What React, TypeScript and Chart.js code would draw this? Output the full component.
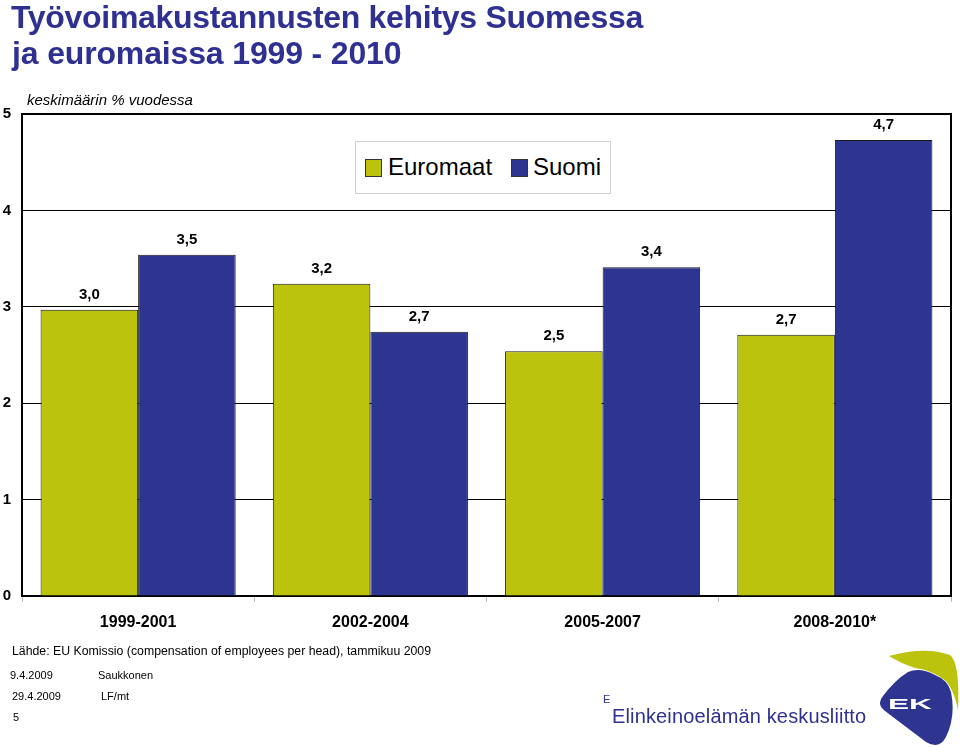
import React, { useEffect, useRef } from "react";
import { Chart, registerables } from "chart.js";

Chart.register(...registerables);

const categories = ["1999-2001", "2002-2004", "2005-2007", "2008-2010*"];
const euromaat = [2.97, 3.24, 2.54, 2.71];
const suomi = [3.54, 2.74, 3.41, 4.73];
const seriesNames = ["Euromaat", "Suomi"];
const yMin = 0;
const yMax = 5;
const yStep = 1;

const GREEN = "#BCC30C";
const BLUE = "#2E3591";
const TITLE_BLUE = "#2E3192";
const FONT = "'Liberation Sans', Arial, Helvetica, sans-serif";

const fmt = (v: number) => v.toFixed(1).replace(".", ",");

const valueLabels = {
  id: "valueLabels",
  afterDatasetsDraw(chart: any) {
    const ctx = chart.ctx;
    ctx.save();
    ctx.font = `bold 15px ${FONT}`;
    ctx.fillStyle = "#000";
    ctx.textAlign = "center";
    ctx.textBaseline = "alphabetic";
    chart.data.datasets.forEach((ds: any, di: number) => {
      const meta = chart.getDatasetMeta(di);
      meta.data.forEach((el: any, i: number) => {
        ctx.fillText(fmt(ds.data[i]), el.x, el.y - 11);
      });
    });
    ctx.restore();
  },
};

export default function App() {
  const ref = useRef<HTMLCanvasElement | null>(null);

  useEffect(() => {
    if (!ref.current) return;
    Chart.defaults.font.family = FONT;
    const chart = new Chart(ref.current, {
      type: "bar",
      data: {
        labels: categories,
        datasets: [
          {
            label: seriesNames[0],
            data: euromaat,
            backgroundColor: GREEN,
            borderColor: "#1a1a1a",
            borderWidth: 1,
            barPercentage: 1,
            categoryPercentage: 0.84,
          },
          {
            label: seriesNames[1],
            data: suomi,
            backgroundColor: BLUE,
            borderColor: "#1a1a1a",
            borderWidth: 1,
            barPercentage: 1,
            categoryPercentage: 0.84,
          },
        ],
      },
      options: {
        responsive: false,
        animation: false,
        devicePixelRatio: 1,
        layout: { padding: { top: 114, right: 9, bottom: 0, left: 0 } },
        plugins: {
          legend: { display: false },
          tooltip: { enabled: false },
          title: { display: false },
        },
        scales: {
          x: {
            offset: true,
            grid: {
              display: true,
              offset: true,
              drawOnChartArea: false,
              drawTicks: true,
              tickLength: 6,
              color: "#bbbbbb",
            },
            border: { display: true, color: "#000", width: 2 },
            ticks: {
              font: { size: 16, weight: "bold", family: FONT },
              color: "#000",
              padding: 11,
              maxRotation: 0,
            },
            afterFit: (s: any) => {
              s.height = 151;
            },
          },
          y: {
            min: yMin,
            max: yMax,
            ticks: {
              stepSize: yStep,
              font: { size: 15, weight: "bold", family: FONT },
              color: "#000",
              padding: 11,
            },
            grid: {
              color: "#000",
              lineWidth: (c: any) => (c.tick && c.tick.value === yMax ? 2 : 1),
              drawTicks: false,
            },
            border: { display: true, color: "#000", width: 2 },
            afterFit: (s: any) => {
              s.width = 22;
            },
          },
          y2: {
            position: "right",
            min: yMin,
            max: yMax,
            ticks: { display: false },
            grid: { display: false, drawTicks: false },
            border: { display: true, color: "#000", width: 2 },
            afterFit: (s: any) => {
              s.width = 0;
            },
          },
        },
      },
      plugins: [valueLabels],
    } as any);
    return () => chart.destroy();
  }, []);

  const abs = (extra: React.CSSProperties): React.CSSProperties => ({
    position: "absolute",
    whiteSpace: "nowrap",
    fontFamily: FONT,
    ...extra,
  });

  return (
    <div
      style={{
        position: "absolute",
        left: 0,
        top: 0,
        width: 960,
        height: 747,
        background: "#fff",
        overflow: "hidden",
      }}
    >
      <canvas
        ref={ref}
        width={960}
        height={747}
        style={{ position: "absolute", left: 0, top: 0, width: 960, height: 747 }}
      />
      {/* Title */}
      <div style={abs({ left: 11, top: 1, fontSize: 32, lineHeight: "32px", fontWeight: "bold", letterSpacing: "-0.3px", color: TITLE_BLUE })}>
        Työvoimakustannusten kehitys Suomessa
      </div>
      <div style={abs({ left: 12, top: 37, fontSize: 32, lineHeight: "32px", fontWeight: "bold", letterSpacing: "-0.15px", color: TITLE_BLUE })}>
        ja euromaissa 1999 - 2010
      </div>
      <div style={abs({ left: 27, top: 92, fontSize: 15, lineHeight: "15px", fontStyle: "italic", color: "#000" })}>
        keskimäärin % vuodessa
      </div>

      {/* Legend */}
      <div
        style={{
          position: "absolute",
          left: 355,
          top: 141,
          width: 254,
          height: 51,
          border: "1px solid #cfcfcf",
          background: "#fff",
        }}
      />
      <div style={{ position: "absolute", left: 365, top: 159, width: 15, height: 16, background: GREEN, border: "1px solid #333" }} />
      <div style={abs({ left: 388, top: 155, fontSize: 24, lineHeight: "24px", color: "#000" })}>{seriesNames[0]}</div>
      <div style={{ position: "absolute", left: 511, top: 159, width: 15, height: 16, background: BLUE, border: "1px solid #333" }} />
      <div style={abs({ left: 533, top: 155, fontSize: 24, lineHeight: "24px", color: "#000" })}>{seriesNames[1]}</div>

      {/* Footer */}
      <div style={abs({ left: 12, top: 644.5, fontSize: 12.3, lineHeight: "12.3px", color: "#000" })}>
        Lähde: EU Komissio (compensation of employees per head), tammikuu 2009
      </div>
      <div style={abs({ left: 10, top: 670, fontSize: 11, lineHeight: "11px", color: "#000" })}>9.4.2009</div>
      <div style={abs({ left: 98, top: 670, fontSize: 11, lineHeight: "11px", color: "#000" })}>Saukkonen</div>
      <div style={abs({ left: 12, top: 691, fontSize: 11, lineHeight: "11px", color: "#000" })}>29.4.2009</div>
      <div style={abs({ left: 101, top: 691, fontSize: 11, lineHeight: "11px", color: "#000" })}>LF/mt</div>
      <div style={abs({ left: 13, top: 712, fontSize: 11, lineHeight: "11px", color: "#000" })}>5</div>

      {/* Logo */}
      <div style={abs({ left: 603, top: 694, fontSize: 11, lineHeight: "11px", color: TITLE_BLUE })}>E</div>
      <div style={abs({ left: 612, top: 706, fontSize: 20, lineHeight: "20px", letterSpacing: "0.15px", color: TITLE_BLUE })}>
        Elinkeinoelämän keskusliitto
      </div>
      <svg
        width={960}
        height={747}
        style={{ position: "absolute", left: 0, top: 0, pointerEvents: "none" }}
      >
        <path
          d="M 889 656 Q 925 646 950 655 Q 960 662 958 710 Q 954 690 946 681 Q 932 670 915 668 Q 900 663 889 656 Z"
          fill="#BCC30C"
        />
        <path
          d="M 883 696 Q 876 704 885 711 L 926 742 Q 939 750 946 737 Q 956 716 951 692 Q 948 680 935 675 Q 920 667 908 672 Q 895 680 883 696 Z"
          fill="#2E3591"
        />
        <text
          x={910}
          y={709}
          fill="#fff"
          fontFamily={FONT}
          fontWeight="bold"
          fontSize={15}
          textAnchor="middle"
          textLength={44}
          lengthAdjust="spacingAndGlyphs"
        >
          EK
        </text>
      </svg>
    </div>
  );
}
